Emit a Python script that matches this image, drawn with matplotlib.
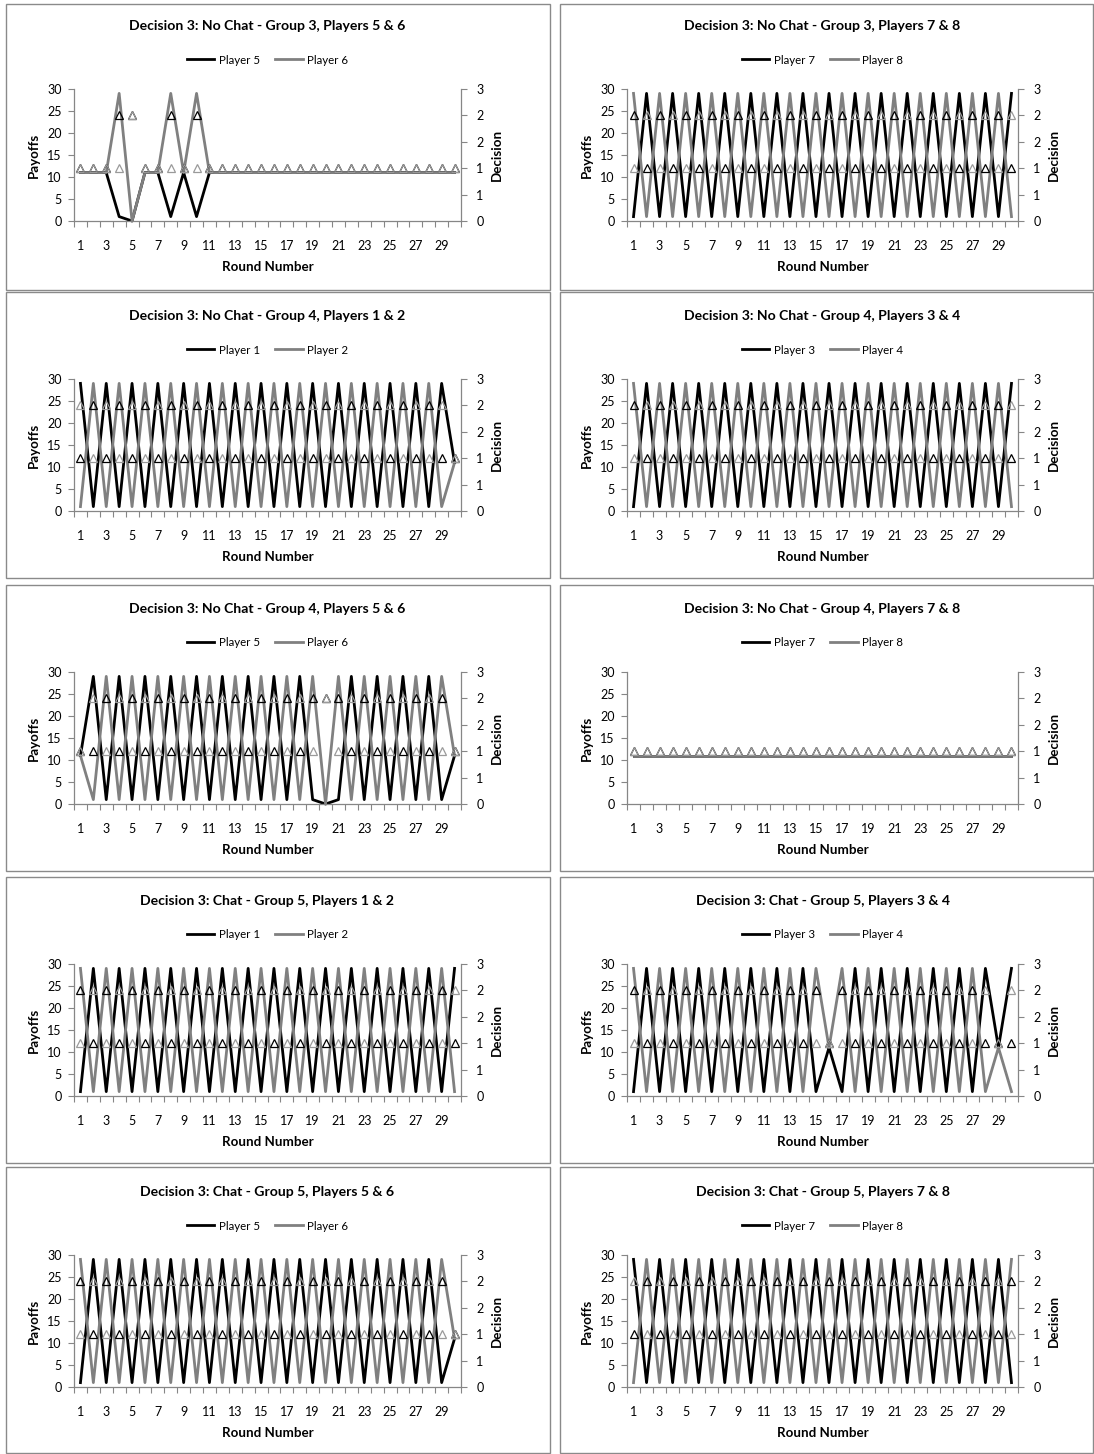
import numpy as np
import matplotlib
matplotlib.use('Agg')
import matplotlib.pyplot as plt
from matplotlib.patches import Rectangle
from matplotlib.lines import Line2D
from matplotlib.ticker import FixedLocator, FuncFormatter, NullFormatter

plt.rcParams['font.family'] = ['Lato', 'DejaVu Sans']

W, H = 1094, 1454

rounds = list(range(1, 31))
round_labels = [str(r) for r in rounds[::2]]

titles = [
    "Decision 3: No Chat - Group 3, Players 5 & 6",
    "Decision 3: No Chat - Group 3, Players 7 & 8",
    "Decision 3: No Chat - Group 4, Players 1 & 2",
    "Decision 3: No Chat - Group 4, Players 3 & 4",
    "Decision 3: No Chat - Group 4, Players 5 & 6",
    "Decision 3: No Chat - Group 4, Players 7 & 8",
    "Decision 3: Chat - Group 5, Players 1 & 2",
    "Decision 3: Chat - Group 5, Players 3 & 4",
    "Decision 3: Chat - Group 5, Players 5 & 6",
    "Decision 3: Chat - Group 5, Players 7 & 8",
]
player_names = [
    ("Player 5", "Player 6"), ("Player 7", "Player 8"),
    ("Player 1", "Player 2"), ("Player 3", "Player 4"),
    ("Player 5", "Player 6"), ("Player 7", "Player 8"),
    ("Player 1", "Player 2"), ("Player 3", "Player 4"),
    ("Player 5", "Player 6"), ("Player 7", "Player 8"),
]

# payoffs per round (left axis) and decisions (right axis)
g3_p5_pay = [11, 11, 11, 1, 0, 11, 11, 1, 11, 1, 11, 11, 11, 11, 11, 11, 11, 11, 11, 11, 11, 11, 11, 11, 11, 11, 11, 11, 11, 11]
g3_p6_pay = [11, 11, 11, 29, 0, 11, 11, 29, 11, 29, 11, 11, 11, 11, 11, 11, 11, 11, 11, 11, 11, 11, 11, 11, 11, 11, 11, 11, 11, 11]
g3_p5_dec = [1, 1, 1, 2, 2, 1, 1, 2, 1, 2, 1, 1, 1, 1, 1, 1, 1, 1, 1, 1, 1, 1, 1, 1, 1, 1, 1, 1, 1, 1]
g3_p6_dec = [1, 1, 1, 1, 2, 1, 1, 1, 1, 1, 1, 1, 1, 1, 1, 1, 1, 1, 1, 1, 1, 1, 1, 1, 1, 1, 1, 1, 1, 1]

g3_p7_pay = [1, 29, 1, 29, 1, 29, 1, 29, 1, 29, 1, 29, 1, 29, 1, 29, 1, 29, 1, 29, 1, 29, 1, 29, 1, 29, 1, 29, 1, 29]
g3_p8_pay = [29, 1, 29, 1, 29, 1, 29, 1, 29, 1, 29, 1, 29, 1, 29, 1, 29, 1, 29, 1, 29, 1, 29, 1, 29, 1, 29, 1, 29, 1]
g3_p7_dec = [2, 1, 2, 1, 2, 1, 2, 1, 2, 1, 2, 1, 2, 1, 2, 1, 2, 1, 2, 1, 2, 1, 2, 1, 2, 1, 2, 1, 2, 1]
g3_p8_dec = [1, 2, 1, 2, 1, 2, 1, 2, 1, 2, 1, 2, 1, 2, 1, 2, 1, 2, 1, 2, 1, 2, 1, 2, 1, 2, 1, 2, 1, 2]

g4_p1_pay = [29, 1, 29, 1, 29, 1, 29, 1, 29, 1, 29, 1, 29, 1, 29, 1, 29, 1, 29, 1, 29, 1, 29, 1, 29, 1, 29, 1, 29, 11]
g4_p2_pay = [1, 29, 1, 29, 1, 29, 1, 29, 1, 29, 1, 29, 1, 29, 1, 29, 1, 29, 1, 29, 1, 29, 1, 29, 1, 29, 1, 29, 1, 11]
g4_p1_dec = [1, 2, 1, 2, 1, 2, 1, 2, 1, 2, 1, 2, 1, 2, 1, 2, 1, 2, 1, 2, 1, 2, 1, 2, 1, 2, 1, 2, 1, 1]
g4_p2_dec = [2, 1, 2, 1, 2, 1, 2, 1, 2, 1, 2, 1, 2, 1, 2, 1, 2, 1, 2, 1, 2, 1, 2, 1, 2, 1, 2, 1, 2, 1]

g4_p3_pay = [1, 29, 1, 29, 1, 29, 1, 29, 1, 29, 1, 29, 1, 29, 1, 29, 1, 29, 1, 29, 1, 29, 1, 29, 1, 29, 1, 29, 1, 29]
g4_p4_pay = [29, 1, 29, 1, 29, 1, 29, 1, 29, 1, 29, 1, 29, 1, 29, 1, 29, 1, 29, 1, 29, 1, 29, 1, 29, 1, 29, 1, 29, 1]
g4_p3_dec = [2, 1, 2, 1, 2, 1, 2, 1, 2, 1, 2, 1, 2, 1, 2, 1, 2, 1, 2, 1, 2, 1, 2, 1, 2, 1, 2, 1, 2, 1]
g4_p4_dec = [1, 2, 1, 2, 1, 2, 1, 2, 1, 2, 1, 2, 1, 2, 1, 2, 1, 2, 1, 2, 1, 2, 1, 2, 1, 2, 1, 2, 1, 2]

g4_p5_pay = [11, 29, 1, 29, 1, 29, 1, 29, 1, 29, 1, 29, 1, 29, 1, 29, 1, 29, 1, 0, 1, 29, 1, 29, 1, 29, 1, 29, 1, 11]
g4_p6_pay = [11, 1, 29, 1, 29, 1, 29, 1, 29, 1, 29, 1, 29, 1, 29, 1, 29, 1, 29, 0, 29, 1, 29, 1, 29, 1, 29, 1, 29, 11]
g4_p5_dec = [1, 1, 2, 1, 2, 1, 2, 1, 2, 1, 2, 1, 2, 1, 2, 1, 2, 1, 2, 2, 2, 1, 2, 1, 2, 1, 2, 1, 2, 1]
g4_p6_dec = [1, 2, 1, 2, 1, 2, 1, 2, 1, 2, 1, 2, 1, 2, 1, 2, 1, 2, 1, 2, 1, 2, 1, 2, 1, 2, 1, 2, 1, 1]

g4_p7_pay = [11, 11, 11, 11, 11, 11, 11, 11, 11, 11, 11, 11, 11, 11, 11, 11, 11, 11, 11, 11, 11, 11, 11, 11, 11, 11, 11, 11, 11, 11]
g4_p8_pay = [11, 11, 11, 11, 11, 11, 11, 11, 11, 11, 11, 11, 11, 11, 11, 11, 11, 11, 11, 11, 11, 11, 11, 11, 11, 11, 11, 11, 11, 11]
g4_p7_dec = [1, 1, 1, 1, 1, 1, 1, 1, 1, 1, 1, 1, 1, 1, 1, 1, 1, 1, 1, 1, 1, 1, 1, 1, 1, 1, 1, 1, 1, 1]
g4_p8_dec = [1, 1, 1, 1, 1, 1, 1, 1, 1, 1, 1, 1, 1, 1, 1, 1, 1, 1, 1, 1, 1, 1, 1, 1, 1, 1, 1, 1, 1, 1]

g5_p1_pay = [1, 29, 1, 29, 1, 29, 1, 29, 1, 29, 1, 29, 1, 29, 1, 29, 1, 29, 1, 29, 1, 29, 1, 29, 1, 29, 1, 29, 1, 29]
g5_p2_pay = [29, 1, 29, 1, 29, 1, 29, 1, 29, 1, 29, 1, 29, 1, 29, 1, 29, 1, 29, 1, 29, 1, 29, 1, 29, 1, 29, 1, 29, 1]
g5_p1_dec = [2, 1, 2, 1, 2, 1, 2, 1, 2, 1, 2, 1, 2, 1, 2, 1, 2, 1, 2, 1, 2, 1, 2, 1, 2, 1, 2, 1, 2, 1]
g5_p2_dec = [1, 2, 1, 2, 1, 2, 1, 2, 1, 2, 1, 2, 1, 2, 1, 2, 1, 2, 1, 2, 1, 2, 1, 2, 1, 2, 1, 2, 1, 2]

g5_p3_pay = [1, 29, 1, 29, 1, 29, 1, 29, 1, 29, 1, 29, 1, 29, 1, 11, 1, 29, 1, 29, 1, 29, 1, 29, 1, 29, 1, 29, 11, 29]
g5_p4_pay = [29, 1, 29, 1, 29, 1, 29, 1, 29, 1, 29, 1, 29, 1, 29, 11, 29, 1, 29, 1, 29, 1, 29, 1, 29, 1, 29, 1, 11, 1]
g5_p3_dec = [2, 1, 2, 1, 2, 1, 2, 1, 2, 1, 2, 1, 2, 1, 2, 1, 2, 1, 2, 1, 2, 1, 2, 1, 2, 1, 2, 1, 1, 1]
g5_p4_dec = [1, 2, 1, 2, 1, 2, 1, 2, 1, 2, 1, 2, 1, 2, 1, 1, 1, 2, 1, 2, 1, 2, 1, 2, 1, 2, 1, 2, 1, 2]

g5_p5_pay = [1, 29, 1, 29, 1, 29, 1, 29, 1, 29, 1, 29, 1, 29, 1, 29, 1, 29, 1, 29, 1, 29, 1, 29, 1, 29, 1, 29, 1, 11]
g5_p6_pay = [29, 1, 29, 1, 29, 1, 29, 1, 29, 1, 29, 1, 29, 1, 29, 1, 29, 1, 29, 1, 29, 1, 29, 1, 29, 1, 29, 1, 29, 11]
g5_p5_dec = [2, 1, 2, 1, 2, 1, 2, 1, 2, 1, 2, 1, 2, 1, 2, 1, 2, 1, 2, 1, 2, 1, 2, 1, 2, 1, 2, 1, 2, 1]
g5_p6_dec = [1, 2, 1, 2, 1, 2, 1, 2, 1, 2, 1, 2, 1, 2, 1, 2, 1, 2, 1, 2, 1, 2, 1, 2, 1, 2, 1, 2, 1, 1]

g5_p7_pay = [29, 1, 29, 1, 29, 1, 29, 1, 29, 1, 29, 1, 29, 1, 29, 1, 29, 1, 29, 1, 29, 1, 29, 1, 29, 1, 29, 1, 29, 1]
g5_p8_pay = [1, 29, 1, 29, 1, 29, 1, 29, 1, 29, 1, 29, 1, 29, 1, 29, 1, 29, 1, 29, 1, 29, 1, 29, 1, 29, 1, 29, 1, 29]
g5_p7_dec = [1, 2, 1, 2, 1, 2, 1, 2, 1, 2, 1, 2, 1, 2, 1, 2, 1, 2, 1, 2, 1, 2, 1, 2, 1, 2, 1, 2, 1, 2]
g5_p8_dec = [2, 1, 2, 1, 2, 1, 2, 1, 2, 1, 2, 1, 2, 1, 2, 1, 2, 1, 2, 1, 2, 1, 2, 1, 2, 1, 2, 1, 2, 1]

panel_data = [
    (g3_p5_pay, g3_p6_pay, g3_p5_dec, g3_p6_dec),
    (g3_p7_pay, g3_p8_pay, g3_p7_dec, g3_p8_dec),
    (g4_p1_pay, g4_p2_pay, g4_p1_dec, g4_p2_dec),
    (g4_p3_pay, g4_p4_pay, g4_p3_dec, g4_p4_dec),
    (g4_p5_pay, g4_p6_pay, g4_p5_dec, g4_p6_dec),
    (g4_p7_pay, g4_p8_pay, g4_p7_dec, g4_p8_dec),
    (g5_p1_pay, g5_p2_pay, g5_p1_dec, g5_p2_dec),
    (g5_p3_pay, g5_p4_pay, g5_p3_dec, g5_p4_dec),
    (g5_p5_pay, g5_p6_pay, g5_p5_dec, g5_p6_dec),
    (g5_p7_pay, g5_p8_pay, g5_p7_dec, g5_p8_dec),
]

GREY = '#808080'
MARK_GREY = '#9a9a9a'
AXIS_GREY = '#868686'
BORDER = '#8a8a8a'

# layout in pixels (panel left, panel right, axes left, axes right)
cols = [(6, 550, 74, 461), (560, 1093, 627, 1018)]
panel_tops = [4, 292, 585, 877, 1167]
axes_tops = [89, 379, 672, 964, 1255]
panel_h = 286
axes_h = 132


def fx(x):
    return x / W


def fy(y):
    return 1 - y / H


fig = plt.figure(figsize=(W / 100, H / 100), dpi=100)

for i, (pay_a, pay_b, dec_a, dec_b) in enumerate(panel_data):
    row, col = divmod(i, 2)
    pl, pr, axl, axr = cols[col]
    pt = panel_tops[row]
    at = axes_tops[row]
    cx = (axl + axr) / 2

    fig.add_artist(Rectangle((fx(pl), fy(pt + panel_h)), (pr - pl) / W, panel_h / H,
                             transform=fig.transFigure, fill=False,
                             edgecolor=BORDER, lw=1.0))

    ax = fig.add_axes([fx(axl), fy(at + axes_h), (axr - axl) / W, axes_h / H])
    ax.plot(rounds, pay_a, color='black', lw=2.0, clip_on=False, zorder=2)
    ax.plot(rounds, pay_b, color=GREY, lw=2.0, clip_on=False, zorder=3)
    ax.set_xlim(0.5, 30.5)
    ax.set_ylim(0, 30)
    ax.set_yticks(range(0, 31, 5))
    ax.xaxis.set_major_locator(FixedLocator(np.arange(0.5, 31, 1)))
    ax.xaxis.set_major_formatter(NullFormatter())
    ax.set_xticks(rounds[::2], labels=round_labels, minor=True)
    ax.tick_params(axis='x', which='major', length=4, width=0.8, color=AXIS_GREY, direction='out')
    ax.tick_params(axis='x', which='minor', length=0, pad=14, labelsize=9)
    ax.tick_params(axis='y', length=4, width=0.8, color=AXIS_GREY, pad=5, labelsize=9)
    for s in ('top', 'right'):
        ax.spines[s].set_visible(False)
    for s in ('left', 'bottom'):
        ax.spines[s].set_color(AXIS_GREY)
        ax.spines[s].set_linewidth(0.9)

    ax2 = ax.twinx()
    ax2.plot(rounds, dec_a, ls='none', marker='^', ms=6, mfc='none', mec='black', mew=0.9, clip_on=False)
    ax2.plot(rounds, dec_b, ls='none', marker='^', ms=6, mfc='none', mec=MARK_GREY, mew=0.9, clip_on=False)
    ax2.set_ylim(0, 2.5)
    ax2.set_yticks(np.arange(0, 2.51, 0.5))
    ax2.yaxis.set_major_formatter(FuncFormatter(lambda v, p: str(int(np.floor(v + 0.5)))))
    ax2.tick_params(axis='y', length=4, width=0.8, color=AXIS_GREY, pad=7, labelsize=9)
    for s in ('top', 'left', 'bottom'):
        ax2.spines[s].set_visible(False)
    ax2.spines['right'].set_color(AXIS_GREY)
    ax2.spines['right'].set_linewidth(0.9)

    fig.text(fx(cx), fy(at - 63), titles[i], ha='center', va='center',
             fontsize=10.1, fontweight='bold')
    fig.text(fx(axl - 40), fy(at + axes_h / 2), 'Payoffs', rotation=90,
             ha='center', va='center', fontsize=9.6, fontweight='bold')
    fig.text(fx(axr + 36), fy(at + axes_h / 2), 'Decision', rotation=90,
             ha='center', va='center', fontsize=9.6, fontweight='bold')
    fig.text(fx(cx), fy(at + axes_h + 46), 'Round Number', ha='center', va='center',
             fontsize=9.6, fontweight='bold')

    handles = [Line2D([], [], color='black', lw=2.0), Line2D([], [], color=GREY, lw=2.0)]
    fig.legend(handles, player_names[i], loc='center', ncol=2, frameon=False,
               bbox_to_anchor=(fx(cx), fy(at - 29)), fontsize=8.3,
               handlelength=2.4, handletextpad=0.4, columnspacing=1.3,
               borderaxespad=0, borderpad=0)

fig.savefig('out.png', dpi=100)
